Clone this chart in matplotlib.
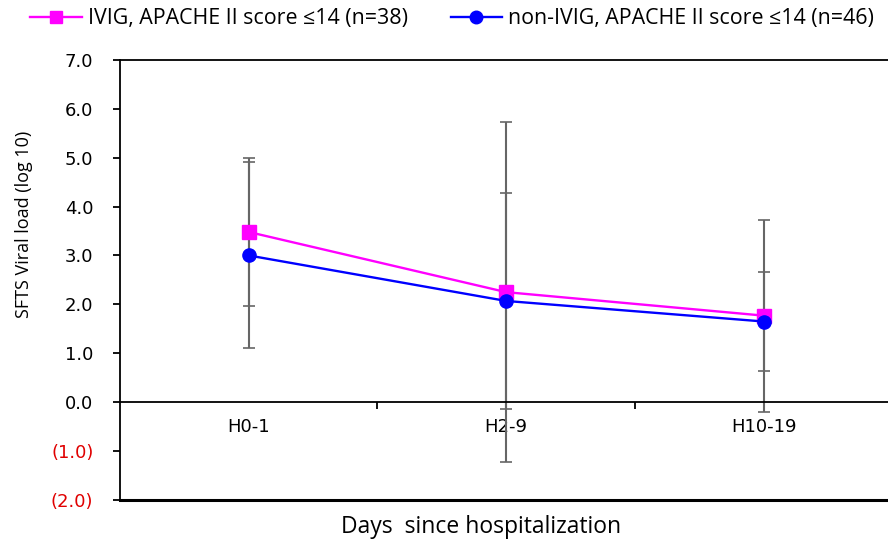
import matplotlib.pyplot as plt
from matplotlib.ticker import FixedLocator

categories = ['H0-1', 'H2-9', 'H10-19']
ivig_mean = [3.48, 2.25, 1.77]
ivig_err = [1.52, 3.47, 1.96]
non_mean = [3.00, 2.07, 1.65]
non_err = [1.90, 2.21, 1.02]
yticks = [-2, -1, 0, 1, 2, 3, 4, 5, 6, 7]

fig = plt.figure(figsize=(8.88, 5.43), dpi=100)
ax = fig.add_axes([0.135, 0.079, 0.87, 0.811])

x = range(len(categories))
ax.errorbar(x, ivig_mean, yerr=ivig_err, fmt='none', ecolor='#666666',
            elinewidth=1.5, capsize=4.5, capthick=1.2, zorder=2)
ax.errorbar(x, non_mean, yerr=non_err, fmt='none', ecolor='#666666',
            elinewidth=1.5, capsize=4.5, capthick=1.2, zorder=2)
ax.plot(x, ivig_mean, color='#FF00FF', marker='s', markersize=9.5, lw=1.7,
        label='IVIG, APACHE II score ≤14 (n=38)', zorder=3)
ax.plot(x, non_mean, color='#0000FF', marker='o', markersize=9.5, lw=1.7,
        label='non-IVIG, APACHE II score ≤14 (n=46)', zorder=4)

ax.set_xlim(-0.5, 2.5)
ax.set_ylim(-2, 7)

# x axis sits on y=0, frame line at top and bottom
ax.spines['right'].set_visible(False)
ax.spines['bottom'].set_position(('data', 0))
ax.spines['top'].set_linewidth(1.3)
ax.spines['left'].set_linewidth(1.3)
ax.spines['bottom'].set_linewidth(1.3)
ax.axhline(-2, color='black', lw=2.2, clip_on=False)

ax.set_xticks(list(x))
ax.set_xticklabels(categories, fontsize=13)
ax.xaxis.set_minor_locator(FixedLocator([0.5, 1.5]))
ax.tick_params(axis='x', which='major', length=0, pad=11)
ax.tick_params(axis='x', which='minor', length=5, width=1.3, direction='out')

ax.set_yticks(yticks)
labels = []
for v in yticks:
    labels.append(f'({abs(v):.1f})' if v < 0 else f'{v:.1f}')
ax.set_yticklabels(labels, fontsize=13)
for t, v in zip(ax.get_yticklabels(), yticks):
    if v < 0:
        t.set_color('#E00000')
ax.tick_params(axis='y', length=5, width=1.3, direction='out', pad=14)

ax.set_ylabel('SFTS Viral load (log 10)', fontsize=13, family='Open Sans')
ax.yaxis.set_label_coords(-0.112, 0.625)
fig.text(0.542, 0.03, 'Days  since hospitalization', ha='center', va='center',
         fontsize=16.5, family='Open Sans')

fig.legend(loc='upper left', bbox_to_anchor=(0.034, 0.985), ncol=2, frameon=False,
           prop={'family': 'Open Sans', 'size': 15.4}, handlelength=2.4,
           columnspacing=2.0, handletextpad=0.3, borderpad=0, borderaxespad=0,
           markerscale=0.95)

fig.savefig('out.png', dpi=100)
